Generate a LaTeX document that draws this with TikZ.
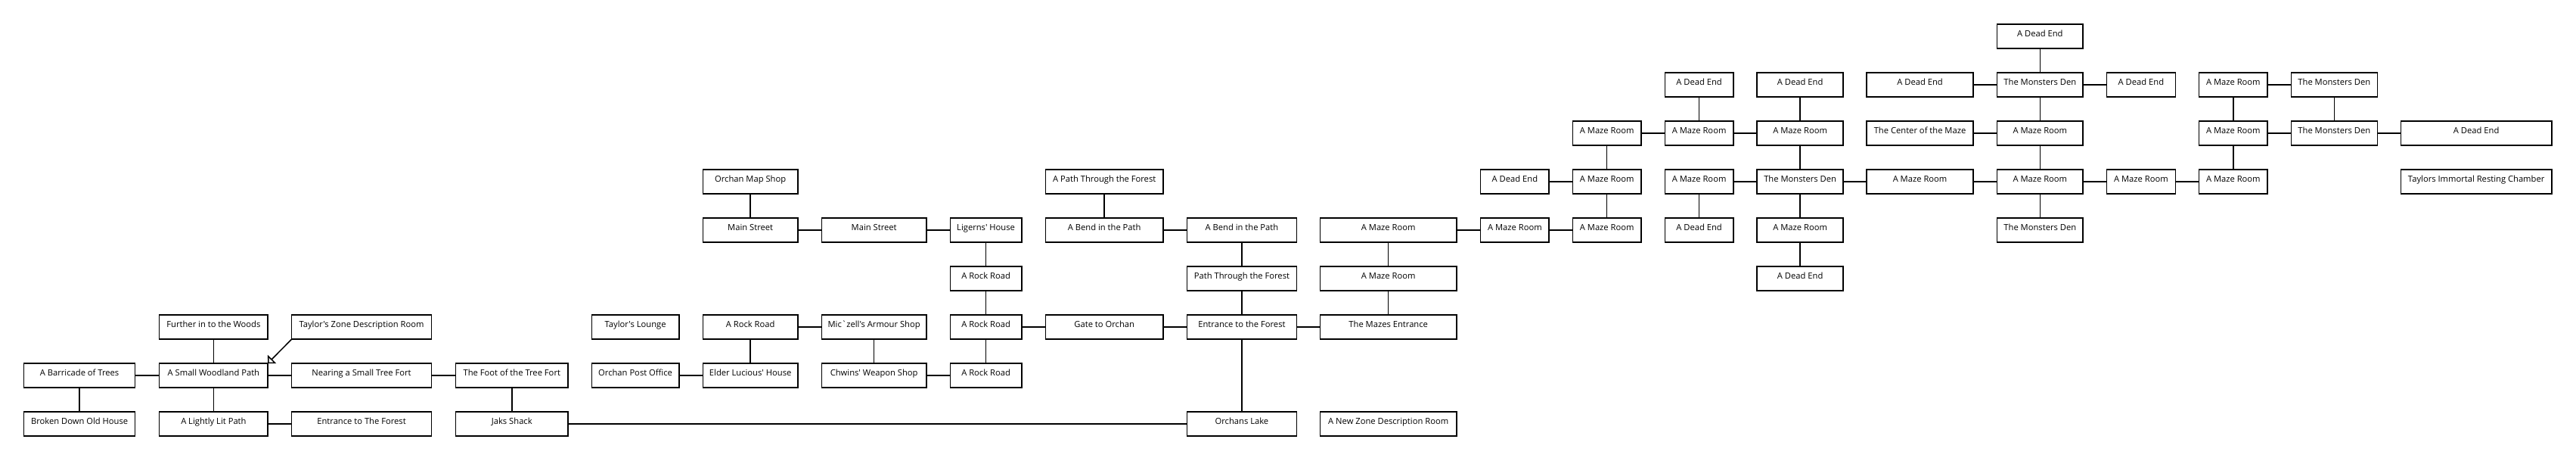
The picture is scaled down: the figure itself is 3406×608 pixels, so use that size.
\documentclass[tikz,border=0pt]{standalone}
\usepackage{fontspec}
\newfontfamily\roomfont{Open Sans}
\usetikzlibrary{arrows.meta}
\begin{document}
\begin{tikzpicture}[x=1pt,y=-1pt,
  room/.style={draw, line width=1.5pt, rectangle, minimum height=32pt, minimum width=#1,
    inner sep=0pt, outer sep=0pt, font=\roomfont\fontsize{11.2pt}{13pt}\selectfont,
    text height=8.5pt, text depth=8.5pt},
  link/.style={line width=1.5pt}]
\fill[white] (0,0) rectangle (3406,608);
\useasboundingbox (0,0) rectangle (3406,608);

\node[room=147pt] (barricade) at (105.1,496) {A Barricade of Trees};
\node[room=147pt] (brokenhouse) at (105.1,560) {Broken Down Old House};
\node[room=143.4pt] (further) at (282.4,432) {Further in to the Woods};
\node[room=143.4pt] (woodland) at (282.4,496) {A Small Woodland Path};
\node[room=143.4pt] (lightlit) at (282.4,560) {A Lightly Lit Path};
\node[room=184.7pt] (tzone) at (478.05,432) {Taylor's Zone Description Room};
\node[room=184.7pt] (nearing) at (478.05,496) {Nearing a Small Tree Fort};
\node[room=184.7pt] (entforestA) at (478.05,560) {Entrance to The Forest};
\node[room=148.4pt] (foot) at (676.8,496) {The Foot of the Tree Fort};
\node[room=148.4pt] (jaks) at (676.8,560) {Jaks Shack};
\node[room=115.4pt] (lounge) at (840.1,432) {Taylor's Lounge};
\node[room=115.4pt] (postoffice) at (840.1,496) {Orchan Post Office};
\node[room=125.5pt] (mapshop) at (992.15,240) {Orchan Map Shop};
\node[room=125.5pt] (mainA) at (992.15,304) {Main Street};
\node[room=125.5pt] (rockA) at (992.15,432) {A Rock Road};
\node[room=125.5pt] (elder) at (992.15,496) {Elder Lucious' House};
\node[room=138.3pt] (mainB) at (1155.65,304) {Main Street};
\node[room=138.3pt] (armour) at (1155.65,432) {Mic`zell's Armour Shop};
\node[room=138.3pt] (chwins) at (1155.65,496) {Chwins' Weapon Shop};
\node[room=94.4pt] (ligerns) at (1303.6,304) {Ligerns' House};
\node[room=94.4pt] (rockB) at (1303.6,368) {A Rock Road};
\node[room=94.4pt] (rockC) at (1303.6,432) {A Rock Road};
\node[room=94.4pt] (rockD) at (1303.6,496) {A Rock Road};
\node[room=155.6pt] (pathA) at (1460.2,240) {A Path Through the Forest};
\node[room=155.6pt] (bendA) at (1460.2,304) {A Bend in the Path};
\node[room=155.6pt] (gate) at (1460.2,432) {Gate to Orchan};
\node[room=144.7pt] (bendB) at (1641.95,304) {A Bend in the Path};
\node[room=144.7pt] (pathB) at (1641.95,368) {Path Through the Forest};
\node[room=144.7pt] (entforestB) at (1641.95,432) {Entrance to the Forest};
\node[room=144.7pt] (lake) at (1641.95,560) {Orchans Lake};
\node[room=180.4pt] (mazeA) at (1835.7,304) {A Maze Room};
\node[room=180.4pt] (mazeB) at (1835.7,368) {A Maze Room};
\node[room=180.4pt] (mazeent) at (1835.7,432) {The Mazes Entrance};
\node[room=180.4pt] (newzone) at (1835.7,560) {A New Zone Description Room};
\node[room=90.6pt] (deadA) at (2002.9,240) {A Dead End};
\node[room=90.6pt] (mazeC) at (2002.9,304) {A Maze Room};
\node[room=90.6pt] (mazeD) at (2124.7,176) {A Maze Room};
\node[room=90.6pt] (mazeE) at (2124.7,240) {A Maze Room};
\node[room=90.6pt] (mazeF) at (2124.7,304) {A Maze Room};
\node[room=90.4pt] (deadB) at (2246.6,112) {A Dead End};
\node[room=90.4pt] (mazeG) at (2246.6,176) {A Maze Room};
\node[room=90.4pt] (mazeH) at (2246.6,240) {A Maze Room};
\node[room=90.4pt] (deadC) at (2246.6,304) {A Dead End};
\node[room=113.9pt] (deadD) at (2380.15,112) {A Dead End};
\node[room=113.9pt] (mazeI) at (2380.15,176) {A Maze Room};
\node[room=113.9pt] (denA) at (2380.15,240) {The Monsters Den};
\node[room=113.9pt] (mazeJ) at (2380.15,304) {A Maze Room};
\node[room=113.9pt] (deadE) at (2380.15,368) {A Dead End};
\node[room=140.7pt] (deadF) at (2538.55,112) {A Dead End};
\node[room=140.7pt] (mazecenter) at (2538.55,176) {The Center of the Maze};
\node[room=140.7pt] (mazeK) at (2538.55,240) {A Maze Room};
\node[room=113.2pt] (deadG) at (2697.3,48) {A Dead End};
\node[room=113.2pt] (denB) at (2697.3,112) {The Monsters Den};
\node[room=113.2pt] (mazeL) at (2697.3,176) {A Maze Room};
\node[room=113.2pt] (mazeM) at (2697.3,240) {A Maze Room};
\node[room=113.2pt] (denC) at (2697.3,304) {The Monsters Den};
\node[room=91pt] (deadH) at (2830.9,112) {A Dead End};
\node[room=91pt] (mazeN) at (2830.9,240) {A Maze Room};
\node[room=90.8pt] (mazeO) at (2952.8,112) {A Maze Room};
\node[room=90.8pt] (mazeP) at (2952.8,176) {A Maze Room};
\node[room=90.8pt] (mazeQ) at (2952.8,240) {A Maze Room};
\node[room=114pt] (denD) at (3086.3,112) {The Monsters Den};
\node[room=114pt] (denE) at (3086.3,176) {The Monsters Den};
\node[room=199.7pt] (deadI) at (3274.15,176) {A Dead End};
\node[room=199.7pt] (immortal) at (3274.15,240) {Taylors Immortal Resting Chamber};

\draw[link] (barricade) -- (woodland);
\draw[link] (barricade) -- (brokenhouse);
\draw[link] (further) -- (woodland);
\draw[link] (woodland) -- (lightlit);
\draw[link] (woodland) -- (nearing);
\draw[link] (nearing) -- (foot);
\draw[link] (lightlit) -- (entforestA);
\draw[link] (foot) -- (jaks);
\draw[link] (jaks) -- (lake);
\draw[link,-{Triangle[open,length=7.8pt,width=15.6pt]}] (tzone.south west) -- (woodland.north east);

\draw[link] (postoffice) -- (elder);
\draw[link] (mapshop) -- (mainA);
\draw[link] (mainA) -- (mainB);
\draw[link] (mainB) -- (ligerns);
\draw[link] (ligerns) -- (rockB);
\draw[link] (rockB) -- (rockC);
\draw[link] (rockC) -- (rockD);
\draw[link] (rockC) -- (gate);
\draw[link] (rockA) -- (armour);
\draw[link] (rockA) -- (elder);
\draw[link] (armour) -- (chwins);
\draw[link] (chwins) -- (rockD);

\draw[link] (pathA) -- (bendA);
\draw[link] (bendA) -- (bendB);
\draw[link] (gate) -- (entforestB);
\draw[link] (bendB) -- (pathB);
\draw[link] (pathB) -- (entforestB);
\draw[link] (entforestB) -- (lake);
\draw[link] (entforestB) -- (mazeent);

\draw[link] (mazeA) -- (mazeB);
\draw[link] (mazeB) -- (mazeent);
\draw[link] (mazeA) -- (mazeC);
\draw[link] (deadA) -- (mazeE);
\draw[link] (mazeC) -- (mazeF);
\draw[link] (mazeD) -- (mazeE);
\draw[link] (mazeE) -- (mazeF);
\draw[link] (mazeD) -- (mazeG);
\draw[link] (deadB) -- (mazeG);
\draw[link] (mazeG) -- (mazeI);
\draw[link] (deadD) -- (mazeI);
\draw[link] (mazeI) -- (denA);
\draw[link] (mazeH) -- (denA);
\draw[link] (mazeH) -- (deadC);
\draw[link] (denA) -- (mazeJ);
\draw[link] (mazeJ) -- (deadE);
\draw[link] (denA) -- (mazeK);

\draw[link] (deadF) -- (denB);
\draw[link] (mazecenter) -- (mazeL);
\draw[link] (mazeK) -- (mazeM);
\draw[link] (deadG) -- (denB);
\draw[link] (denB) -- (mazeL);
\draw[link] (mazeL) -- (mazeM);
\draw[link] (mazeM) -- (denC);
\draw[link] (denB) -- (deadH);
\draw[link] (mazeM) -- (mazeN);
\draw[link] (mazeN) -- (mazeQ);
\draw[link] (mazeO) -- (mazeP);
\draw[link] (mazeP) -- (mazeQ);
\draw[link] (mazeO) -- (denD);
\draw[link] (mazeP) -- (denE);
\draw[link] (denD) -- (denE);
\draw[link] (denE) -- (deadI);
\end{tikzpicture}
\end{document}
